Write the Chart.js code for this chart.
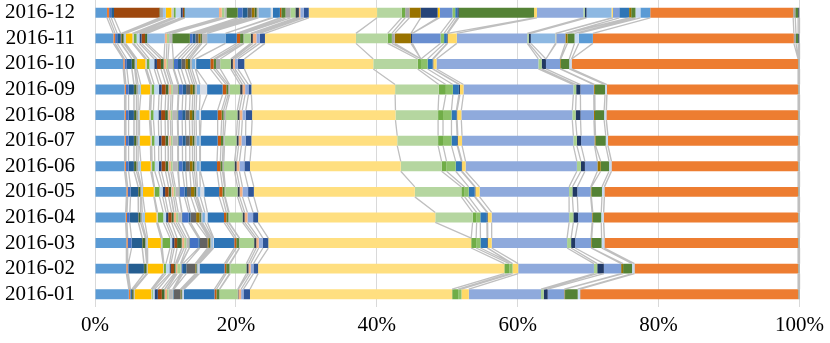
<!DOCTYPE html>
<html><head><meta charset="utf-8">
<script src="https://cdn.jsdelivr.net/npm/chart.js@4.4.1/dist/chart.umd.min.js"></script>
<style>html,body{margin:0;padding:0;background:#fff}</style>
</head><body>
<canvas id="c" width="830" height="343"></canvas>
<script>
// Categories (bottom to top)
const months = ['2016-01','2016-02','2016-03','2016-04','2016-05','2016-06','2016-07','2016-08','2016-09','2016-10','2016-11','2016-12'];
const xTickStep = 20;

// Series values (share of each month), stack order left -> right
const s01 = [4.8,4.45,4.45,4.35,4.45,4.2,4.2,4.2,4.2,4.0,2.6,1.7];
const s02 = [0.19,0.19,0.19,0.19,0.19,0.19,0.19,0.19,0.19,0.19,0.25,0.3];
const s03 = [0.05,0.1,0.55,0.4,0.4,0.38,0.38,0.38,0.38,0.33,0.3,0.3];
const s04 = [0.2,2.2,1.5,1.2,1.08,0.75,0.75,0.75,0.75,0.7,0.5,0.4];
const s05 = [0.03,0.03,0.03,0.03,0.03,0.03,0.03,0.03,0.03,0.03,0.1,6.45];
const s06 = [0.2,0.35,0.4,0.3,0.3,0.33,0.33,0.33,0.33,0.38,0.3,0.1];
const s07 = [0.1,0.1,0.15,0.24,0.15,0.24,0.24,0.24,0.24,0.13,0.1,0.4];
const s08 = [0.05,0.05,0.2,0.38,0.2,0.38,0.2,0.2,0.38,0.2,0.2,0.4];
const s09 = [2.36,2.2,1.88,1.65,1.55,1.41,1.55,1.41,1.32,1.18,0.95,0.8];
const s10 = [0.1,0.1,0.2,0.15,0.1,0.19,0.19,0.19,0.19,0.19,0.2,0.3];
const s11 = [0.1,0.3,1.1,0.8,0.7,0.38,0.38,0.38,0.38,0.38,0.4,0.3];
const s12 = [0.27,0.5,0.3,0.4,0.45,0.57,0.6,0.7,0.7,0.7,0.4,0.7];
const s13 = [0.47,0.2,0.3,0.3,0.35,0.38,0.38,0.38,0.38,0.38,0.3,0.3];
const s14 = [0.57,0.45,0.4,0.47,0.5,0.57,0.57,0.57,0.57,0.57,0.5,0.2];
const s15 = [0.38,0.2,0.66,0.3,0.35,0.38,0.38,0.38,0.38,0.38,0.3,0.1];
const s16 = [0.05,0.05,0.05,0.05,0.05,0.05,0.05,0.05,0.05,0.05,2.5,4.86];
const s17 = [0.3,0.2,0.3,0.3,0.3,0.33,0.33,0.33,0.33,0.33,0.3,0.4];
const s18 = [0.22,0.47,0.3,0.3,0.25,0.24,0.24,0.24,0.24,0.24,0.3,0.35];
const s19 = [0.6,0.1,0.4,0.5,0.55,0.75,0.75,0.75,0.75,0.75,0.45,0.3];
const s20 = [0.05,0.05,0.05,0.05,0.05,0.1,0.1,0.1,0.1,0.1,2.5,1.6];
const s21 = [0.05,0.2,1.27,0.94,0.7,0.57,0.57,0.57,0.57,0.57,0.4,0.7];
const s22 = [0.05,0.47,0.2,0.25,0.35,0.47,0.47,0.47,0.47,0.47,0.4,0.7];
const s23 = [0.94,1.27,1.08,0.8,0.57,0.57,0.57,0.57,0.57,0.57,0.4,0.6];
const s24 = [0.1,0.1,0.2,0.47,0.47,0.38,0.38,0.38,0.38,0.38,0.3,0.4];
const s25 = [0.1,0.1,0.2,0.2,0.25,0.28,0.28,0.28,0.28,0.28,0.2,0.3];
const s26 = [0.1,0.1,0.15,0.2,0.2,0.28,0.28,0.28,0.28,0.28,0.75,0.25];
const s27 = [0.1,0.1,0.2,0.38,0.4,0.47,0.47,0.47,0.47,0.47,2.6,1.75];
const s28 = [0.1,0.2,0.14,0.36,0.56,0.09,0.1,0.23,1.0,0.12,0,0.3];
const s29 = [4.33,3.55,2.92,2.35,2.12,2.36,2.45,2.36,2.2,2.02,1.6,1.0];
const s30 = [0.28,0.24,0.28,0.33,0.47,0.47,0.47,0.57,0.52,0.47,0.47,0.2];
const s31 = [0.42,0.47,0.42,0.3,0.3,0.3,0.3,0.28,0.28,0.33,0.47,0.6];
const s32 = [0.05,0.1,0.05,0.1,0.1,0.2,0.2,0.3,0.19,0.6,0.1,0.7];
const s33 = [2.55,2.3,2.07,1.9,1.74,1.51,1.7,1.65,1.5,1.5,0.94,0.7];
const s34 = [0.1,0.3,0.3,0.3,0.3,0.3,0.3,0.3,0.33,0.3,0.3,0.5];
const s35 = [0.38,0.3,0.35,0.4,0.4,0.4,0.4,0.4,0.38,0.3,0.5,0.2];
const s36 = [0.33,0.4,0.6,0.8,0.8,0.7,0.6,0.5,0.47,0.4,0.5,0.5];
const s37 = [0.93,0.66,0.76,0.71,0.82,0.8,0.82,0.89,0.42,0.93,0.72,0.7];
const s38 = [28.7,34.95,28.8,25.15,22.85,21.4,20.7,20.35,20.4,18.3,12.9,9.7];
const s39 = [0,0,0,5.3,6.6,5.8,5.8,6.05,6.2,6.3,4.5,3.5];
const s40 = [0.85,0.7,0.7,0.57,0.47,0.7,0.7,0.7,1.0,0.47,0.6,0.5];
const s41 = [0,0,0,0,0,0,0,0,0,0,0.4,0.6];
const s42 = [0,0,0,0,0,0,0,0,0,0,2.3,1.6];
const s43 = [0,0,0,0,0,0,0,0,0,0,0.2,2.4];
const s44 = [0,0,0,0,0,0,0,0,0,0,0,0.3];
const s45 = [0,0,0,0,0,0,0,0,0,0,4.0,1.8];
const s46 = [0.47,0.47,0.61,0.52,0.57,1.3,1.2,1.2,1.0,0.94,0.5,0.4];
const s47 = [0,0,0.94,0.94,0.85,0.8,0.8,0.7,0.85,0.7,0.4,0.3];
const s48 = [0,0,0.1,0.1,0.1,0.1,0.1,0.1,0.15,0.1,0.1,0.2];
const s49 = [0,0,0,0,0,0,0,0,0,0,0,10.7];
const s50 = [1.04,0.8,0.56,0.57,0.6,0.5,0.6,0.6,0.5,0.47,1.3,0.4];
const s51 = [10.25,10.75,10.7,11.0,12.7,15.8,15.8,15.75,15.6,14.45,10.0,6.6];
const s52 = [0.38,0.47,0.57,0.6,0.47,0.57,0.5,0.47,0.4,0.47,0.2,0.2];
const s53 = [0.57,0.94,0.57,0.66,0.7,0.57,0.6,0.7,0.6,0.61,0.3,0.25];
const s54 = [0,0,0,0,0,0,0,0,0,0,3.5,3.55];
const s55 = [0,0,0,0,0,0,0,0,0,0,0.1,0.2];
const s56 = [2.36,2.45,2.26,2.0,1.9,1.77,1.9,1.9,1.9,2.0,1.3,0.9];
const s57 = [0,0,0,0,0,0,0,0,0,0,0,1.4];
const s58 = [0.1,0.28,0.1,0.1,0.1,0.47,0.15,0.15,0.15,0.1,0.3,0.3];
const s59 = [1.8,1.27,1.4,1.2,1.5,1.19,1.45,1.3,1.45,1.2,1.0,0.6];
const s60 = [0.33,0.33,0.38,0.33,0.33,0.33,0.3,0.3,0.25,0.33,0.6,0.7];
const s61 = [0.02,0.02,0.02,0.02,0.02,0.02,0.02,0.02,0.02,0.02,2.0,1.4];
const s62 = [30.93,23.22,27.49,27.59,27.49,26.48,26.98,27.21,27.13,32.14,28.5,20.3];
const s63 = [0.05,0.05,0.05,0.05,0.05,0.05,0.05,0.05,0.05,0.05,0.3,0.3];
const s64 = [0.05,0.05,0.05,0.05,0.05,0.05,0.05,0.05,0.05,0.05,0.3,0.4];
const s65 = [0.1,0.1,0.1,0.1,0.1,0.1,0.1,0.1,0.1,0.1,0.2,0.2];

const seriesValues = [s01,s02,s03,s04,s05,s06,s07,s08,s09,s10,s11,s12,s13,s14,s15,s16,s17,s18,s19,s20,
  s21,s22,s23,s24,s25,s26,s27,s28,s29,s30,s31,s32,s33,s34,s35,s36,s37,s38,s39,s40,
  s41,s42,s43,s44,s45,s46,s47,s48,s49,s50,s51,s52,s53,s54,s55,s56,s57,s58,s59,s60,
  s61,s62,s63,s64,s65];

// Styles (kept apart from the data)
const seriesColors = ['#5B9BD5','#ED7D31','#4472C4','#255E91','#9E480E','#43682B','#A5A5A5','#9DC3E6','#FFC000','#C9C9C9',
  '#70AD47','#BDD7EE','#264478','#9E480E','#43682B','#8DB8E2','#F4B183','#A9D18E','#B7B7B7','#548235',
  '#4472C4','#255E91','#636363','#997300','#43682B','#B7B7B7','#7CAFDD','#D6DCE5','#2E75B6','#C55A11',
  '#548235','#A5A5A5','#A9D18E','#333F50','#F4B183','#8FAADC','#2F5597','#FFDF80','#B5D6A0','#70AD47',
  '#A5A5A5','#997300','#264478','#FFC000','#698ED0','#8CC168','#2E75B6','#1F3864','#548235','#FFD966',
  '#8FAADC','#A9D18E','#203864','#8DB8E2','#FFD966','#7F9FD8','#2E75B6','#997300','#548235','#C5D9F1',
  '#5B9BD5','#ED7D31','#A5A5A5','#548235','#44546A'];

// 100% stacked: each month is shown as shares of its total
const totals = months.map((m, i) => seriesValues.reduce((a, s) => a + s[i], 0));
const datasets = seriesValues.map((s, k) => ({
  label: 'S' + (k + 1),
  data: s.map((v, i) => v / totals[i] * 100),
  backgroundColor: seriesColors[k],
  borderWidth: 0,
  barPercentage: 0.39,
  categoryPercentage: 1.0
}));

const seriesLines = {
  id: 'seriesLines',
  afterDatasetsDraw(chart) {
    const ctx = chart.ctx;
    ctx.save();
    ctx.strokeStyle = '#BFBFBF';
    ctx.lineWidth = 1.3;
    ctx.beginPath();
    chart.data.datasets.forEach((ds, k) => {
      const meta = chart.getDatasetMeta(k);
      for (let i = 0; i < meta.data.length - 1; i++) {
        const a = meta.data[i].getProps(['x', 'y', 'height'], true);
        const b = meta.data[i + 1].getProps(['x', 'y', 'height'], true);
        ctx.moveTo(a.x, a.y - a.height / 2);
        ctx.lineTo(b.x, b.y + b.height / 2);
      }
    });
    ctx.stroke();
    ctx.restore();
  }
};

const tickFont = { family: 'Liberation Serif', size: 21 };

new Chart(document.getElementById('c'), {
  type: 'bar',
  data: { labels: months, datasets },
  options: {
    indexAxis: 'y',
    responsive: false,
    animation: false,
    devicePixelRatio: 1,
    layout: { padding: { left: 0, right: 27, top: 0, bottom: 0 } },
    plugins: { legend: { display: false }, tooltip: { enabled: false } },
    scales: {
      x: {
        stacked: true, min: 0, max: 100,
        ticks: { stepSize: xTickStep, callback: v => v + '%', font: tickFont, color: '#000', padding: 6, maxRotation: 0 },
        grid: { color: '#D9D9D9', lineWidth: 1, drawTicks: false },
        border: { display: false },
        afterFit(s) { s.height = 36; }
      },
      y: {
        stacked: true, reverse: true,
        ticks: { font: tickFont, color: '#000', padding: 20, autoSkip: false },
        grid: { display: false, drawTicks: false },
        border: { display: false },
        afterFit(s) { s.width = 95; s.paddingTop = 0; s.paddingBottom = 0; }
      }
    }
  },
  plugins: [seriesLines]
});
</script>
</body></html>
